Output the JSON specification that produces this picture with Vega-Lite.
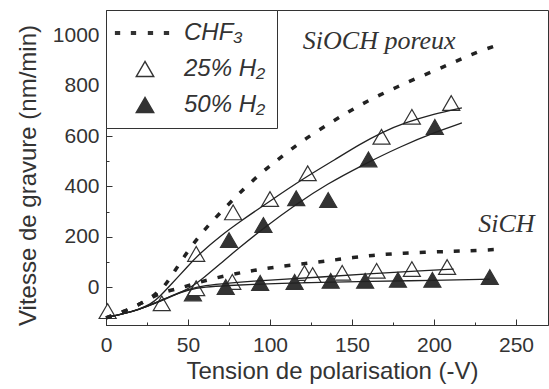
{
  "$schema": "https://vega.github.io/schema/vega-lite/v6.json",
  "width": 442,
  "height": 315,
  "autosize": {"type": "none"},
  "padding": {"left": 106, "top": 10, "right": 1, "bottom": 64},
  "background": "white",
  "config": {
    "view": {"stroke": "#333", "strokeWidth": 1},
    "axis": {
      "grid": false,
      "labelFlush": false,
      "domainColor": "#333",
      "tickColor": "#333",
      "labelColor": "#333",
      "titleColor": "#333",
      "labelFont": "Liberation Sans",
      "titleFont": "Liberation Sans",
      "titleFontWeight": "normal"
    }
  },
  "datasets": {
    "pts": [
      {"serie": "25% H₂", "materiau": "SiOCH", "tension": 1, "vitesse": -95},
      {"serie": "25% H₂", "materiau": "SiOCH", "tension": 34, "vitesse": -64},
      {"serie": "25% H₂", "materiau": "SiOCH", "tension": 55, "vitesse": 132},
      {"serie": "25% H₂", "materiau": "SiOCH", "tension": 77.5, "vitesse": 297},
      {"serie": "25% H₂", "materiau": "SiOCH", "tension": 100, "vitesse": 350},
      {"serie": "25% H₂", "materiau": "SiOCH", "tension": 123, "vitesse": 452},
      {"serie": "25% H₂", "materiau": "SiOCH", "tension": 168, "vitesse": 597},
      {"serie": "25% H₂", "materiau": "SiOCH", "tension": 186.5, "vitesse": 676},
      {"serie": "25% H₂", "materiau": "SiOCH", "tension": 210.5, "vitesse": 731},
      {"serie": "50% H₂", "materiau": "SiOCH", "tension": 53, "vitesse": -25},
      {"serie": "50% H₂", "materiau": "SiOCH", "tension": 75, "vitesse": 187},
      {"serie": "50% H₂", "materiau": "SiOCH", "tension": 96, "vitesse": 247},
      {"serie": "50% H₂", "materiau": "SiOCH", "tension": 116, "vitesse": 353},
      {"serie": "50% H₂", "materiau": "SiOCH", "tension": 135.5, "vitesse": 346},
      {"serie": "50% H₂", "materiau": "SiOCH", "tension": 160, "vitesse": 507},
      {"serie": "50% H₂", "materiau": "SiOCH", "tension": 200.5, "vitesse": 636},
      {"serie": "25% H₂", "materiau": "SiCH", "tension": 55, "vitesse": -4},
      {"serie": "25% H₂", "materiau": "SiCH", "tension": 77, "vitesse": 21},
      {"serie": "25% H₂", "materiau": "SiCH", "tension": 121, "vitesse": 56},
      {"serie": "25% H₂", "materiau": "SiCH", "tension": 126, "vitesse": 48},
      {"serie": "25% H₂", "materiau": "SiCH", "tension": 144, "vitesse": 57},
      {"serie": "25% H₂", "materiau": "SiCH", "tension": 165, "vitesse": 65},
      {"serie": "25% H₂", "materiau": "SiCH", "tension": 186.5, "vitesse": 72},
      {"serie": "25% H₂", "materiau": "SiCH", "tension": 208, "vitesse": 80},
      {"serie": "50% H₂", "materiau": "SiCH", "tension": 73, "vitesse": 1},
      {"serie": "50% H₂", "materiau": "SiCH", "tension": 94, "vitesse": 17},
      {"serie": "50% H₂", "materiau": "SiCH", "tension": 115, "vitesse": 21},
      {"serie": "50% H₂", "materiau": "SiCH", "tension": 137, "vitesse": 25},
      {"serie": "50% H₂", "materiau": "SiCH", "tension": 158, "vitesse": 25},
      {"serie": "50% H₂", "materiau": "SiCH", "tension": 178, "vitesse": 29},
      {"serie": "50% H₂", "materiau": "SiCH", "tension": 199, "vitesse": 29},
      {"serie": "50% H₂", "materiau": "SiCH", "tension": 234, "vitesse": 40}
    ],
    "fits": [
      {"courbe": "25% H₂ SiOCH", "tension": 0, "vitesse": -120},
      {"courbe": "25% H₂ SiOCH", "tension": 10, "vitesse": -107},
      {"courbe": "25% H₂ SiOCH", "tension": 20, "vitesse": -88},
      {"courbe": "25% H₂ SiOCH", "tension": 27, "vitesse": -68},
      {"courbe": "25% H₂ SiOCH", "tension": 32, "vitesse": -43},
      {"courbe": "25% H₂ SiOCH", "tension": 40, "vitesse": 13},
      {"courbe": "25% H₂ SiOCH", "tension": 50, "vitesse": 84},
      {"courbe": "25% H₂ SiOCH", "tension": 57, "vitesse": 133},
      {"courbe": "25% H₂ SiOCH", "tension": 70, "vitesse": 205},
      {"courbe": "25% H₂ SiOCH", "tension": 82, "vitesse": 262},
      {"courbe": "25% H₂ SiOCH", "tension": 100, "vitesse": 342},
      {"courbe": "25% H₂ SiOCH", "tension": 120, "vitesse": 430},
      {"courbe": "25% H₂ SiOCH", "tension": 140, "vitesse": 508},
      {"courbe": "25% H₂ SiOCH", "tension": 155, "vitesse": 568},
      {"courbe": "25% H₂ SiOCH", "tension": 168, "vitesse": 614},
      {"courbe": "25% H₂ SiOCH", "tension": 182, "vitesse": 652},
      {"courbe": "25% H₂ SiOCH", "tension": 200, "vitesse": 688},
      {"courbe": "25% H₂ SiOCH", "tension": 217, "vitesse": 712},
      {"courbe": "50% H₂ SiOCH", "tension": 0, "vitesse": -120},
      {"courbe": "50% H₂ SiOCH", "tension": 10, "vitesse": -107},
      {"courbe": "50% H₂ SiOCH", "tension": 20, "vitesse": -89},
      {"courbe": "50% H₂ SiOCH", "tension": 31, "vitesse": -62},
      {"courbe": "50% H₂ SiOCH", "tension": 42, "vitesse": -32},
      {"courbe": "50% H₂ SiOCH", "tension": 53, "vitesse": 4},
      {"courbe": "50% H₂ SiOCH", "tension": 60, "vitesse": 40},
      {"courbe": "50% H₂ SiOCH", "tension": 69.5, "vitesse": 92},
      {"courbe": "50% H₂ SiOCH", "tension": 80, "vitesse": 150},
      {"courbe": "50% H₂ SiOCH", "tension": 96, "vitesse": 234},
      {"courbe": "50% H₂ SiOCH", "tension": 116, "vitesse": 330},
      {"courbe": "50% H₂ SiOCH", "tension": 135, "vitesse": 410},
      {"courbe": "50% H₂ SiOCH", "tension": 155, "vitesse": 480},
      {"courbe": "50% H₂ SiOCH", "tension": 180, "vitesse": 560},
      {"courbe": "50% H₂ SiOCH", "tension": 202, "vitesse": 618},
      {"courbe": "50% H₂ SiOCH", "tension": 217, "vitesse": 652},
      {"courbe": "25% H₂ SiCH", "tension": 0, "vitesse": -120},
      {"courbe": "25% H₂ SiCH", "tension": 10, "vitesse": -107},
      {"courbe": "25% H₂ SiCH", "tension": 20, "vitesse": -89},
      {"courbe": "25% H₂ SiCH", "tension": 30, "vitesse": -63},
      {"courbe": "25% H₂ SiCH", "tension": 40, "vitesse": -33},
      {"courbe": "25% H₂ SiCH", "tension": 50, "vitesse": -8},
      {"courbe": "25% H₂ SiCH", "tension": 60, "vitesse": 7},
      {"courbe": "25% H₂ SiCH", "tension": 75, "vitesse": 17},
      {"courbe": "25% H₂ SiCH", "tension": 90, "vitesse": 24},
      {"courbe": "25% H₂ SiCH", "tension": 106, "vitesse": 30},
      {"courbe": "25% H₂ SiCH", "tension": 130, "vitesse": 40},
      {"courbe": "25% H₂ SiCH", "tension": 160, "vitesse": 53},
      {"courbe": "25% H₂ SiCH", "tension": 190, "vitesse": 64},
      {"courbe": "25% H₂ SiCH", "tension": 212, "vitesse": 72},
      {"courbe": "50% H₂ SiCH", "tension": 0, "vitesse": -120},
      {"courbe": "50% H₂ SiCH", "tension": 10, "vitesse": -107},
      {"courbe": "50% H₂ SiCH", "tension": 20, "vitesse": -89},
      {"courbe": "50% H₂ SiCH", "tension": 30, "vitesse": -63},
      {"courbe": "50% H₂ SiCH", "tension": 40, "vitesse": -34},
      {"courbe": "50% H₂ SiCH", "tension": 50, "vitesse": -10},
      {"courbe": "50% H₂ SiCH", "tension": 60, "vitesse": 1},
      {"courbe": "50% H₂ SiCH", "tension": 75, "vitesse": 7},
      {"courbe": "50% H₂ SiCH", "tension": 90, "vitesse": 11},
      {"courbe": "50% H₂ SiCH", "tension": 106, "vitesse": 15},
      {"courbe": "50% H₂ SiCH", "tension": 130, "vitesse": 19},
      {"courbe": "50% H₂ SiCH", "tension": 160, "vitesse": 23},
      {"courbe": "50% H₂ SiCH", "tension": 200, "vitesse": 27},
      {"courbe": "50% H₂ SiCH", "tension": 234, "vitesse": 32}
    ],
    "chf": [
      {"materiau": "SiOCH", "tension": 0, "vitesse": -122},
      {"materiau": "SiOCH", "tension": 12, "vitesse": -94},
      {"materiau": "SiOCH", "tension": 22, "vitesse": -63},
      {"materiau": "SiOCH", "tension": 30, "vitesse": -30},
      {"materiau": "SiOCH", "tension": 36, "vitesse": 5},
      {"materiau": "SiOCH", "tension": 42, "vitesse": 65},
      {"materiau": "SiOCH", "tension": 48, "vitesse": 125},
      {"materiau": "SiOCH", "tension": 55, "vitesse": 188},
      {"materiau": "SiOCH", "tension": 63, "vitesse": 250},
      {"materiau": "SiOCH", "tension": 74, "vitesse": 325},
      {"materiau": "SiOCH", "tension": 84, "vitesse": 390},
      {"materiau": "SiOCH", "tension": 94, "vitesse": 450},
      {"materiau": "SiOCH", "tension": 105, "vitesse": 508},
      {"materiau": "SiOCH", "tension": 115, "vitesse": 558},
      {"materiau": "SiOCH", "tension": 126, "vitesse": 608},
      {"materiau": "SiOCH", "tension": 137, "vitesse": 653},
      {"materiau": "SiOCH", "tension": 147, "vitesse": 693},
      {"materiau": "SiOCH", "tension": 157, "vitesse": 730},
      {"materiau": "SiOCH", "tension": 167, "vitesse": 763},
      {"materiau": "SiOCH", "tension": 178, "vitesse": 796},
      {"materiau": "SiOCH", "tension": 188, "vitesse": 826},
      {"materiau": "SiOCH", "tension": 200, "vitesse": 858},
      {"materiau": "SiOCH", "tension": 210, "vitesse": 887},
      {"materiau": "SiOCH", "tension": 220, "vitesse": 915},
      {"materiau": "SiOCH", "tension": 230, "vitesse": 942},
      {"materiau": "SiOCH", "tension": 242, "vitesse": 968},
      {"materiau": "SiCH", "tension": 0, "vitesse": -122},
      {"materiau": "SiCH", "tension": 12, "vitesse": -94},
      {"materiau": "SiCH", "tension": 22, "vitesse": -63},
      {"materiau": "SiCH", "tension": 30, "vitesse": -32},
      {"materiau": "SiCH", "tension": 38, "vitesse": -14},
      {"materiau": "SiCH", "tension": 45, "vitesse": -4},
      {"materiau": "SiCH", "tension": 52, "vitesse": 10},
      {"materiau": "SiCH", "tension": 62, "vitesse": 29},
      {"materiau": "SiCH", "tension": 74, "vitesse": 47},
      {"materiau": "SiCH", "tension": 84, "vitesse": 60},
      {"materiau": "SiCH", "tension": 94, "vitesse": 71},
      {"materiau": "SiCH", "tension": 104, "vitesse": 80},
      {"materiau": "SiCH", "tension": 115, "vitesse": 89},
      {"materiau": "SiCH", "tension": 126, "vitesse": 97},
      {"materiau": "SiCH", "tension": 137, "vitesse": 106},
      {"materiau": "SiCH", "tension": 147, "vitesse": 115},
      {"materiau": "SiCH", "tension": 158, "vitesse": 123},
      {"materiau": "SiCH", "tension": 167, "vitesse": 129},
      {"materiau": "SiCH", "tension": 178, "vitesse": 134},
      {"materiau": "SiCH", "tension": 188, "vitesse": 137},
      {"materiau": "SiCH", "tension": 200, "vitesse": 140},
      {"materiau": "SiCH", "tension": 210, "vitesse": 142},
      {"materiau": "SiCH", "tension": 220, "vitesse": 144},
      {"materiau": "SiCH", "tension": 230, "vitesse": 147},
      {"materiau": "SiCH", "tension": 242, "vitesse": 151}
    ],
    "notes": [
      {"texte": "SiOCH poreux", "tension": 120, "vitesse": 945},
      {"texte": "SiCH", "tension": 227, "vitesse": 219}
    ]
  },
  "resolve": {"axis": {"x": "independent", "y": "independent"}},
  "layer": [
    {
      "mark": {"type": "rule", "color": "#444", "strokeWidth": 1.2},
      "encoding": {
        "y": {"datum": 0, "type": "quantitative", "scale": {"domain": [-150, 1100]}, "axis": null}
      }
    },
    {
      "data": {"name": "pts"},
      "mark": {"type": "point", "filled": true, "size": 290, "stroke": "#333", "strokeWidth": 1.2, "opacity": 1},
      "encoding": {
        "x": {
          "field": "tension", "type": "quantitative",
          "scale": {"domain": [0, 269.5], "nice": false, "zero": false},
          "axis": {
            "values": [0, 50, 100, 150, 200, 250],
            "tickSize": -6, "labelPadding": 15, "labelFontSize": 21,
            "title": "Tension de polarisation (-V)", "titleFontSize": 24, "titlePadding": 4, "titleX": 226
          }
        },
        "y": {
          "field": "vitesse", "type": "quantitative",
          "scale": {"domain": [-150, 1100], "nice": false, "zero": false},
          "axis": {
            "values": [0, 200, 400, 600, 800, 1000], "format": "d",
            "tickSize": -6, "labelPadding": 13, "labelFontSize": 21,
            "title": "Vitesse de gravure (nm/min)", "titleFontSize": 24, "titlePadding": 12, "titleY": 165
          }
        },
        "fill": {
          "field": "serie", "type": "nominal",
          "scale": {"domain": ["CHF₃", "25% H₂", "50% H₂"], "range": ["#333333", "#ffffff", "#333333"]},
          "legend": {
            "title": null,
            "orient": "none", "legendX": 0, "legendY": 0,
            "strokeColor": "#333", "fillColor": "white", "padding": 11,
            "symbolSize": 300, "symbolOffset": 16, "labelOffset": 27, "rowPadding": 12,
            "labelFont": "Liberation Sans", "labelFontStyle": "italic", "labelFontSize": 24, "labelColor": "#333",
            "labelLimit": 200
          }
        },
        "shape": {
          "field": "serie", "type": "nominal",
          "scale": {"domain": ["CHF₃", "25% H₂", "50% H₂"], "range": ["M-3.39,-0.13H-2.95V0.13H-3.39ZM-1.55,-0.13H-1.11V0.13H-1.55ZM0.41,-0.13H0.85V0.13H0.41ZM2.26,-0.13H2.7V0.13H2.26Z", "triangle-up", "triangle-up"]},
          "legend": {
            "title": null,
            "orient": "none", "legendX": 0, "legendY": 0,
            "strokeColor": "#333", "fillColor": "white", "padding": 11,
            "symbolSize": 300, "symbolOffset": 16, "labelOffset": 27, "rowPadding": 12,
            "labelFont": "Liberation Sans", "labelFontStyle": "italic", "labelFontSize": 24, "labelColor": "#333",
            "labelLimit": 200
          }
        }
      }
    },
    {
      "data": {"name": "fits"},
      "mark": {"type": "line", "color": "#222", "strokeWidth": 1.3, "interpolate": "basis"},
      "encoding": {
        "x": {"field": "tension", "type": "quantitative", "axis": null},
        "y": {"field": "vitesse", "type": "quantitative", "axis": null},
        "detail": {"field": "courbe", "type": "nominal"}
      }
    },
    {
      "data": {"name": "chf"},
      "mark": {"type": "line", "color": "#222", "strokeWidth": 3.5, "strokeDash": [6, 11], "interpolate": "basis"},
      "encoding": {
        "x": {
          "field": "tension", "type": "quantitative",
          "axis": {"orient": "bottom", "values": [25, 75, 125, 175, 225], "tickSize": -3, "labels": false, "domain": false, "title": null}
        },
        "y": {
          "field": "vitesse", "type": "quantitative",
          "axis": {"orient": "left", "values": [-100, 100, 300, 500, 700, 900], "tickSize": -3, "labels": false, "domain": false, "title": null}
        },
        "detail": {"field": "materiau", "type": "nominal"}
      }
    },
    {
      "data": {"name": "notes"},
      "mark": {"type": "text", "font": "Liberation Serif", "fontStyle": "italic", "fontSize": 26, "color": "#333", "align": "left", "baseline": "alphabetic"},
      "encoding": {
        "x": {"field": "tension", "type": "quantitative", "axis": null},
        "y": {"field": "vitesse", "type": "quantitative", "axis": null},
        "text": {"field": "texte"}
      }
    }
  ]
}
